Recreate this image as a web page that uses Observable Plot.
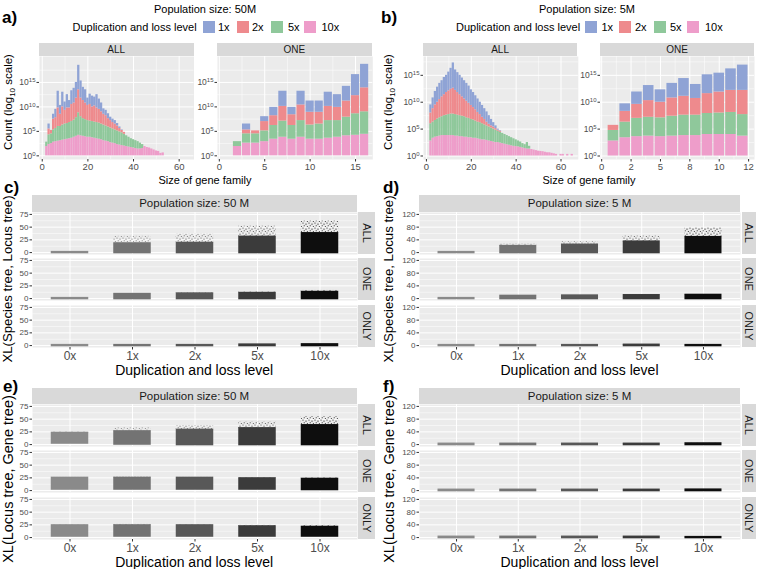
<!DOCTYPE html>
<html><head><meta charset="utf-8">
<script src="https://cdn.jsdelivr.net/npm/d3@7"></script>
<script src="https://cdn.jsdelivr.net/npm/@observablehq/plot@0.6"></script>
<style>
body{margin:0;background:#fff;}
#root{position:relative;width:758px;height:569px;overflow:hidden;font-family:"Liberation Sans",Arial,Helvetica,sans-serif;color:#000;}
.t{position:absolute;white-space:nowrap;line-height:1;}
.strip{position:absolute;background:#d9d9d9;color:#1a1a1a;display:flex;align-items:center;justify-content:center;white-space:nowrap;}
svg.plot{position:absolute;overflow:visible;}
</style></head><body><div id="root"></div>
<script>
// ---------------- DATA ----------------
const legendLevels = ["1x", "2x", "5x", "10x"];
const legendColors = ["#8fa3d5", "#ee8a8d", "#8fc89b", "#ee9dca"];
const stackLevels = ["10x", "5x", "2x", "1x"]; // bottom -> top

// Histograms: cumulative stacked heights (log10 units) read per level, bottom->top
// Panel a, ALL (population size 50M)
const aAllSizes = [2,3,4,5,6,7,8,9,10,11,12,13,14,15,16,17,18,19,20,21,22,23,24,25,26,27,28,29,30,31,32,33,34,35,36,37,38,39,40,41,42,43,44,45,46,47,48,49,50,51,52,53];
const aAll10x = [1.9,2.3,2.5,2.8,2.9,3.0,3.1,3.2,3.3,3.4,3.5,3.6,3.8,4.0,4.2,4.1,4.0,3.9,3.8,3.8,3.7,3.6,3.5,3.4,3.3,3.1,3.0,2.9,2.7,2.6,2.5,2.3,2.2,2.1,2.0,1.9,1.8,1.7,1.6,1.5,1.4,1.4,1.5,1.9,1.7,1.6,1.4,1.2,1.0,0.9,0.5,0.6];
const aAll5x = [2.8,4.3,4.5,5.3,5.6,6.0,6.0,6.3,6.5,6.6,6.8,7.0,7.3,7.8,8.8,8.0,7.6,7.4,7.2,7.1,7.0,6.9,6.8,6.7,6.5,6.3,6.1,5.9,5.7,5.5,5.3,5.1,4.9,4.7,4.4,4.1,3.8,3.5,3.3,3.1,2.9,2.6,2.3];
const aAll2x = [0,5.5,5.2,7.5,7.8,9.8,8.5,10.0,9.3,9.8,9.8,10.5,10.8,11.8,13.5,11.8,11.3,10.8,10.3,10.5,10.0,10.2,9.8,9.5,9.0,8.5,8.2,7.6,7.2,6.8,6.5,6.1,5.6,5.2,4.8];
const aAll1x = [0,6.5,0,8.5,9.5,13.2,10.3,13.0,11.0,12.5,11.3,13.3,13.8,15.0,18.5,15.3,14.0,13.5,11.8,12.6,12.2,12.0,12.5,11.6,10.8,9.6,9.3,8.6,7.9,7.5,7.2,6.6,5.9,5.3];
// Panel a, ONE
const aOneSizes = [2,3,4,5,6,7,8,9,10,11,12,13,14,15,16];
const aOne10x = [1.9,2.6,2.6,2.9,3.4,3.8,3.4,3.8,3.4,3.4,3.6,3.8,4.1,4.2,4.4];
const aOne5x = [2.9,4.5,4.5,5.1,6.2,7.1,6.2,7.2,6.3,6.5,7.2,7.2,7.9,8.6,9.0];
const aOne2x = [0,5.3,5.1,7.0,8.2,10.1,8.4,10.4,8.9,8.9,10.1,9.9,11.2,12.3,13.9];
const aOne1x = [0,6.5,0,8.0,9.9,13.2,9.9,13.2,11.2,11.2,13.0,12.5,14.2,16.6,18.7];
// Panel b, ALL (population size 5M)
const bAllSizes = [2,3,4,5,6,7,8,9,10,11,12,13,14,15,16,17,18,19,20,21,22,23,24,25,26,27,28,29,30,31,32,33,34,35,36,37,38,39,40,41,42,43,44,45,46,47,48,49,50,51,52,53,54,55,56,57,58,59,60,61,62,63,64,65];
const bAll10x = [2.8,3.3,3.5,3.6,3.7,3.8,3.8,3.8,3.8,3.8,3.8,3.7,3.7,3.6,3.6,3.5,3.5,3.4,3.4,3.3,3.3,3.2,3.1,3.0,3.0,2.9,2.8,2.7,2.6,2.5,2.5,2.4,2.3,2.2,2.1,2.0,1.9,1.8,1.75,1.7,1.6,1.5,1.4,1.3,1.3,1.2,1.1,1.0,0.9,0.85,0.8,0.7,0.6,0.6,0.5,0.4,0.3,0,0.3,0.3,0,0.3,0,0.3];
const bAll5x = [6.0,6.3,6.6,6.9,7.1,7.3,7.5,7.6,7.7,7.8,7.8,7.7,7.6,7.5,7.4,7.3,7.1,7.0,6.8,6.7,6.5,6.3,6.2,6.0,5.8,5.6,5.4,5.2,5.0,4.8,4.6,4.4,4.2,4.0,3.8,3.6,3.4,3.2,3.0,2.8,2.6,2.3,2.1,2.5,1.8];
const bAll2x = [8.0,8.8,9.5,10.0,10.5,11.0,11.4,11.8,12.1,12.4,12.6,12.2,11.8,11.4,11.0,10.6,10.2,9.8,9.4,9.0,8.6,8.1,7.7,7.2,6.8,6.3,5.9,5.6,5.4,5.1,4.8,4.6];
const bAll1x = [9.5,10.8,12.0,12.8,13.5,14.0,14.6,15.0,15.6,16.3,17.3,16.0,15.5,15.0,14.5,14.0,13.5,13.0,12.3,11.8,11.2,10.6,10.0,9.4,8.8,8.2,7.5,6.8,6.2,5.6,5.0,4.7];
// Panel b, ONE
const bOneSizes = [1,2,3,4,5,6,7,8,9,10,11,12];
const bOne10x = [2.8,3.4,3.6,3.7,3.6,3.7,3.8,3.8,4.0,4.0,4.0,3.7];
const bOne5x = [4.75,6.3,7.0,7.2,7.1,7.4,7.6,7.6,7.9,8.0,8.1,7.7];
const bOne2x = [5.7,8.3,9.6,10.3,10.0,10.8,11.1,10.7,11.6,11.9,12.2,12.2];
const bOne1x = [0,9.7,11.9,13.1,12.3,13.5,14.4,13.3,15.1,15.4,16.2,16.9];

// Histogram tick values / labels
const histYTicks = [0, 5, 10, 15];
const histYMinor = [2.5, 7.5, 12.5, 17.5];
const allXTicks = [0, 20, 40, 60];
const allXMinor = [10, 30, 50];
const aOneXTicks = [0, 5, 10, 15];
const aOneXMinor = [2.5, 7.5, 12.5];
const bOneXTicks = [0, 2.5, 5, 7.5, 10, 12.5];
const bOneXLabels = ["0", "2", "5", "8", "10", "12"];
const bOneXMinor = [1.25, 3.75, 6.25, 8.75, 11.25];

// Jitter panels: XL distance per duplication/loss level
const dupLevels = ["0x", "1x", "2x", "5x", "10x"];
const dupColors = ["#8a8a8a", "#737373", "#585858", "#3b3b3b", "#0e0e0e"];
const facetRows = ["ALL", "ONE", "ONLY"];
// c) XL(Species tree, Locus tree), 50M : low edge, dense top, sparse top
const cAllLow = [0,0,0,0,0],   cAllDense = [0,17,18,30,37],  cAllSparse = [0,32,36,52,62];
const cOneLow = [0,0,0,0,0],   cOneDense = [0,8,9,10,12],    cOneSparse = [0,10,11,13,16];
const cOnlyLow = [0,0,0,0,0],  cOnlyDense = [0,0,0,1,1.5],   cOnlySparse = [0,0,0,1,1.5];
// d) 5M
const dAllLow = [0,0,0,0,0],   dAllDense = [0,19,23,33,47],  dAllSparse = [0,27,34,52,78];
const dOneLow = [0,0,0,0,0],   dOneDense = [0,7,8,9,10],     dOneSparse = [0,8,9,12,12];
const dOnlyLow = [0,0,0,0,0],  dOnlyDense = [0,0,0,1,0],     dOnlySparse = [0,0,0,3,2];
// e) XL(Locus tree, Gene tree), 50M
const eAllLow = [3,1,0,0,0],   eAllDense = [22,25,28,31,37], eAllSparse = [25,33,37,44,55];
const eOneLow = [3,3,3,3,2],   eOneDense = [24,24,24,23,22], eOneSparse = [26,27,26,25,25];
const eOnlyLow = [3,3,3,3,3],  eOnlyDense = [23,23,23,21,20],eOnlySparse = [25,26,25,24,24];
// f) 5M
const fAllLow = [0,0,0,0,0],   fAllDense = [1,1,1,1,2],      fAllSparse = [1,1,1,2,4];
const fOneLow = [0,0,0,0,0],   fOneDense = [1,1,1,1,1.5],    fOneSparse = [1,1,1,1,2];
const fOnlyLow = [0,0,0,0,0],  fOnlyDense = [1,1,1,1,0],     fOnlySparse = [1,1,1,1,2];

const yTicks75 = [0, 25, 50, 75], yMinor75 = [12.5, 37.5, 62.5];
const yTicks120 = [0, 40, 80, 120], yMinor120 = [20, 60, 100];

// ---------------- RENDER ----------------
const FONT = '"Liberation Sans", Arial, Helvetica, sans-serif';
const root = document.getElementById("root");

root.insertAdjacentHTML("beforeend", `<svg width="0" height="0" style="position:absolute"><defs>${dupColors.map((c, i) =>
  `<pattern id="sp${i}" width="6" height="5" patternUnits="userSpaceOnUse">
     <circle cx="1" cy="1" r="0.6" fill="${c}"/><circle cx="4" cy="2.1" r="0.6" fill="${c}"/>
     <circle cx="2.2" cy="3.8" r="0.55" fill="${c}"/><circle cx="5.3" cy="4.4" r="0.5" fill="${c}"/>
   </pattern>`).join("")}</defs></svg>`);

function txt(html, x, y, {size = 11, weight = "normal", anchor = "middle", rotate = 0, color = "#000"} = {}) {
  const d = document.createElement("div");
  d.className = "t";
  d.innerHTML = html;
  d.style.left = x + "px"; d.style.top = y + "px";
  d.style.fontSize = size + "px"; d.style.fontWeight = weight; d.style.color = color;
  const tx = anchor === "middle" ? "-50%" : anchor === "end" ? "-100%" : "0";
  d.style.transform = `translate(${tx},-50%)` + (rotate ? ` rotate(${rotate}deg)` : "");
  root.appendChild(d);
}
function strip(label, x0, y0, x1, y1, size, vertical) {
  const d = document.createElement("div");
  d.className = "strip";
  d.style.left = x0 + "px"; d.style.top = y0 + "px";
  d.style.width = (x1 - x0) + "px"; d.style.height = (y1 - y0) + "px";
  d.style.fontSize = size + "px";
  d.innerHTML = vertical ? `<span style="transform:rotate(90deg);display:inline-block">${label}</span>` : label;
  root.appendChild(d);
}
function place(svg, left, top) {
  svg.classList.add("plot");
  svg.style.left = left + "px"; svg.style.top = top + "px";
  root.appendChild(svg);
}

function stackRows(sizes, tops) {
  const out = [];
  sizes.forEach((s, i) => {
    let prev = 0;
    stackLevels.forEach((lv, k) => {
      const t = tops[k][i];
      if (t == null) return;
      const top = Math.max(prev, t);
      if (top > prev) out.push({size: s, level: lv, y1: prev, y2: top});
      prev = top;
    });
  });
  return out;
}

const gridMajor = {stroke: "#fff", strokeOpacity: 1, strokeWidth: 1};
const gridMinor = {stroke: "#fff", strokeOpacity: 1, strokeWidth: 0.5};

function hist(cfg) {
  const [x0, y0, x1, y1] = cfg.frame;
  const ml = 34, mr = 2, mt = 1, mb = 16;
  const rows = stackRows(cfg.sizes, cfg.tops);
  const svg = Plot.plot({
    width: x1 - x0 + ml + mr, height: y1 - y0 + mt + mb,
    marginLeft: ml, marginRight: mr, marginTop: mt, marginBottom: mb,
    style: {fontFamily: FONT, fontSize: "8.5px", color: "#4d4d4d", background: "transparent"},
    x: {domain: cfg.xDomain}, y: {domain: cfg.yDomain},
    color: {domain: legendLevels, range: legendColors},
    marks: [
      Plot.frame({fill: "#ebebeb", stroke: null}),
      Plot.gridX(cfg.xMinor, gridMinor),
      Plot.gridX(cfg.xTicks, gridMajor),
      Plot.gridY(histYMinor, gridMinor),
      Plot.gridY(histYTicks, gridMajor),
      Plot.rect(rows, {x1: d => d.size - cfg.half, x2: d => d.size + cfg.half, y1: "y1", y2: "y2", fill: "level"}),
      Plot.axisX(cfg.xTicks, {tickSize: 2.5, tickPadding: 1.5, fontSize: 9.5, label: null, stroke: "#333", fill: "#4d4d4d",
        tickFormat: d => cfg.xLabels ? cfg.xLabels[cfg.xTicks.indexOf(d)] : String(d)}),
      Plot.axisY(histYTicks, {tickSize: 2.5, tickPadding: 1.5, fontSize: 8.5, label: null, stroke: "#333", fill: "#4d4d4d",
        tickFormat: d => "10^" + d})
    ]
  });
  svg.querySelectorAll("text").forEach(t => {
    const m = /^10\^(\d+)$/.exec(t.textContent);
    if (m) {
      t.textContent = "10";
      const ts = document.createElementNS("http://www.w3.org/2000/svg", "tspan");
      ts.setAttribute("dy", "-0.45em"); ts.setAttribute("font-size", "6px");
      ts.textContent = m[1];
      t.appendChild(ts);
    }
  });
  place(svg, x0 - ml, y0 - mt);
  strip(cfg.strip, x0, cfg.stripTop, x1, y0, 10, false);
}

const dupPos = dupLevels.map((_, i) => i + 1); // discrete positions 1..5
function dotPanel(cfg) {
  const [x0, x1] = cfg.x;
  cfg.rows.forEach(([ry0, ry1], r) => {
    const last = r === cfg.rows.length - 1;
    const ml = 24, mr = 1, mt = 0, mb = last ? 20 : 0;
    const rd = cfg.data[r];
    const data = dupLevels.map((lv, i) => ({level: lv, i, pos: i + 1, low: rd[0][i], dense: rd[1][i], sparse: rd[2][i]}));
    const marks = [
      Plot.frame({fill: "#ebebeb", stroke: null}),
      Plot.gridY(cfg.yMinor, gridMinor),
      Plot.gridY(cfg.yTicks, gridMajor),
      Plot.gridX(dupPos, gridMajor),
      Plot.rectY(data, {x1: d => d.pos - 0.3, x2: d => d.pos + 0.3, y1: "dense", y2: "sparse", fill: d => `url(#sp${d.i})`}),
      Plot.rectY(data, {x1: d => d.pos - 0.3, x2: d => d.pos + 0.3, y1: "low", y2: "dense", fill: d => dupColors[d.i], insetTop: -1.2, insetBottom: -1.2}),
      Plot.axisY(cfg.yTicks, {tickSize: 2.5, tickPadding: 1.5, fontSize: 8, label: null, stroke: "#333", fill: "#4d4d4d"})
    ];
    if (last) marks.push(Plot.axisX(dupPos, {tickSize: 2.5, tickPadding: 1.5, fontSize: 12, label: null, stroke: "#333", fill: "#4d4d4d",
      tickFormat: d => dupLevels[d - 1]}));
    const svg = Plot.plot({
      width: x1 - x0 + ml + mr, height: ry1 - ry0 + mt + mb,
      marginLeft: ml, marginRight: mr, marginTop: mt, marginBottom: mb,
      style: {fontFamily: FONT, fontSize: "8px", color: "#4d4d4d", background: "transparent"},
      x: {domain: [0.4, 5.6], axis: last ? undefined : null},
      y: {domain: cfg.yDomain},
      color: {type: "identity"},
      marks
    });
    place(svg, x0 - ml, ry0 - mt);
    strip(facetRows[r], cfg.right[0], ry0, cfg.right[1], ry1, 11, true);
  });
  strip(cfg.title, x0, cfg.strip[0], x1, cfg.strip[1], 11.5, false);
  txt(cfg.ylab, cfg.ylabX, cfg.ylabY, {size: cfg.ylabSize, rotate: -90});
  txt("Duplication and loss level", (x0 + x1) / 2, cfg.xlabY, {size: 14});
}

function legend(y, titleX, swX, labX, popLabel, popX) {
  txt(popLabel, popX, 9, {size: 11});
  txt("Duplication and loss level", titleX, y, {size: 11, anchor: "start"});
  legendLevels.forEach((lv, i) => {
    const s = document.createElement("div");
    s.style.cssText = `position:absolute;left:${swX[i]}px;top:${y - 6}px;width:12px;height:12px;background:${legendColors[i]};`;
    root.appendChild(s);
    txt(lv, labX[i], y, {size: 11, anchor: "start"});
  });
}

// ---- panel a ----
txt("a)", 2, 17, {size: 17, weight: "bold", anchor: "start"});
legend(27, 72.5, [202.5, 236.5, 270.5, 304], [218, 252, 288, 321.5], "Population size: 50M", 205);
hist({frame: [39, 56, 193.5, 159], stripTop: 43, strip: "ALL", sizes: aAllSizes, tops: [aAll10x, aAll5x, aAll2x, aAll1x],
  xDomain: [-1.2, 66.5], yDomain: [-0.75, 20.3], xTicks: allXTicks, xMinor: allXMinor, half: 0.5});
hist({frame: [216.7, 56, 372, 159], stripTop: 43, strip: "ONE", sizes: aOneSizes, tops: [aOne10x, aOne5x, aOne2x, aOne1x],
  xDomain: [-0.2, 16.9], yDomain: [-0.75, 20.3], xTicks: aOneXTicks, xMinor: aOneXMinor, half: 0.45});
txt("Count (log<sub style='font-size:8px'>10</sub> scale)", 10, 102, {size: 11.5, rotate: -90});
txt("Size of gene family", 205, 180, {size: 11});

// ---- panel b ----
txt("b)", 381, 17, {size: 17, weight: "bold", anchor: "start"});
legend(27, 456, [585, 619, 654, 687], [601.5, 635, 670, 705], "Population size: 5M", 587);
hist({frame: [422.7, 56, 577.5, 159], stripTop: 43, strip: "ALL", sizes: bAllSizes, tops: [bAll10x, bAll5x, bAll2x, bAll1x],
  xDomain: [-1.3, 67.7], yDomain: [-0.65, 18.5], xTicks: allXTicks, xMinor: allXMinor, half: 0.5});
hist({frame: [600, 56, 754, 159], stripTop: 43, strip: "ONE", sizes: bOneSizes, tops: [bOne10x, bOne5x, bOne2x, bOne1x],
  xDomain: [-0.1, 13.0], yDomain: [-0.65, 18.5], xTicks: bOneXTicks, xLabels: bOneXLabels, xMinor: bOneXMinor, half: 0.45});
txt("Count (log<sub style='font-size:8px'>10</sub> scale)", 390, 102, {size: 11.5, rotate: -90});
txt("Size of gene family", 589, 180, {size: 11});

// ---- panels c-f ----
const rowsTop = [[211.5, 253.5], [258, 300], [304.5, 346.5]];
const rowsBot = [[403.5, 445.5], [450, 492], [496.5, 538.5]];
txt("c)", 4, 187, {size: 17, weight: "bold", anchor: "start"});
dotPanel({x: [31.7, 356.7], rows: rowsTop, strip: [194.5, 211.5], right: [358, 375], yDomain: [-3.75, 78.75],
  yTicks: yTicks75, yMinor: yMinor75, title: "Population size: 50 M",
  data: [[cAllLow, cAllDense, cAllSparse], [cOneLow, cOneDense, cOneSparse], [cOnlyLow, cOnlyDense, cOnlySparse]],
  ylab: "XL(Species tree, Locus tree)", ylabX: 8, ylabY: 279, ylabSize: 13.2, xlabY: 370});
txt("d)", 383, 187, {size: 17, weight: "bold", anchor: "start"});
dotPanel({x: [419, 740], rows: rowsTop, strip: [194.5, 211.5], right: [741.5, 756], yDomain: [-6, 126],
  yTicks: yTicks120, yMinor: yMinor120, title: "Population size: 5 M",
  data: [[dAllLow, dAllDense, dAllSparse], [dOneLow, dOneDense, dOneSparse], [dOnlyLow, dOnlyDense, dOnlySparse]],
  ylab: "XL(Species tree, Locus tree)", ylabX: 389, ylabY: 279, ylabSize: 13.2, xlabY: 370});
txt("e)", 3, 386, {size: 17, weight: "bold", anchor: "start"});
dotPanel({x: [31.7, 356.7], rows: rowsBot, strip: [388, 403.5], right: [358, 375], yDomain: [-3.75, 78.75],
  yTicks: yTicks75, yMinor: yMinor75, title: "Population size: 50 M",
  data: [[eAllLow, eAllDense, eAllSparse], [eOneLow, eOneDense, eOneSparse], [eOnlyLow, eOnlyDense, eOnlySparse]],
  ylab: "XL(Locus tree, Gene tree)", ylabX: 8, ylabY: 479, ylabSize: 14.5, xlabY: 562});
txt("f)", 383, 386, {size: 17, weight: "bold", anchor: "start"});
dotPanel({x: [419, 740], rows: rowsBot, strip: [388, 403.5], right: [741.5, 756], yDomain: [-6, 126],
  yTicks: yTicks120, yMinor: yMinor120, title: "Population size: 5 M",
  data: [[fAllLow, fAllDense, fAllSparse], [fOneLow, fOneDense, fOneSparse], [fOnlyLow, fOnlyDense, fOnlySparse]],
  ylab: "XL(Locus tree, Gene tree)", ylabX: 389, ylabY: 479, ylabSize: 14.5, xlabY: 562});
</script></body></html>
